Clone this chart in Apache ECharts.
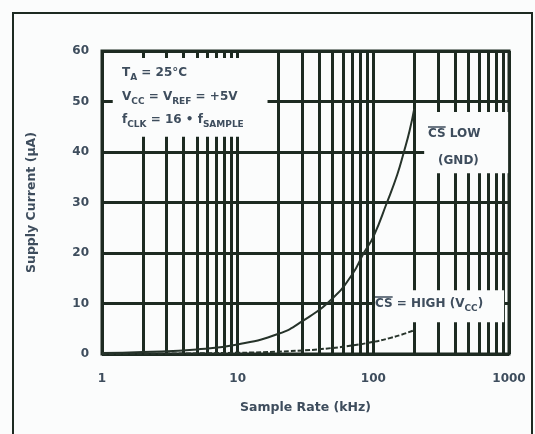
<!DOCTYPE html>
<html>
<head>
<meta charset="utf-8">
<script src="https://cdn.jsdelivr.net/npm/echarts@6/dist/echarts.min.js"></script>
<style>
  html, body { margin: 0; padding: 0; background: #fbfcfc; }
  #chart { width: 535px; height: 434px; }
</style>
</head>
<body>
<div id="chart"></div>
<script>
// Supply current vs. sample rate, two chip-select states
const sampleRateLow = [1, 2, 5, 10, 20, 30, 50, 70, 85, 100, 126, 150, 168, 185, 200];
const currentLow    = [0.2, 0.4, 0.9, 1.9, 4, 6.5, 11, 15.8, 20, 23.2, 30, 35.5, 40, 44.2, 48.5];

const sampleRateHigh = [1, 10, 30, 50, 70, 100, 130, 160, 200];
const currentHigh    = [0.02, 0.24, 0.7, 1.2, 1.7, 2.4, 3.1, 3.8, 4.7];

// Log-decade minor grid positions (2..9 per decade)
const minorGrid = [2, 3, 4, 5, 6, 7, 8, 9, 20, 30, 40, 50, 60, 70, 80, 90, 200, 300, 400, 500, 600, 700, 800, 900];
const xTickLabels = ['1', '10', '100', '1000'];

const ink = '#1d2a21';
const textInk = '#3e4d5d';
const font = '"DejaVu Sans", sans-serif';

const chart = echarts.init(document.getElementById('chart'), null, { renderer: 'canvas' });

chart.setOption({
  backgroundColor: '#fbfcfc',
  animation: false,
  grid: {
    left: 102, right: 26, top: 51, bottom: 80,
    show: true, borderColor: ink, borderWidth: 3, backgroundColor: 'transparent'
  },
  xAxis: {
    type: 'log', logBase: 10, min: 1, max: 1000,
    name: 'Sample Rate (kHz)', nameLocation: 'middle', nameGap: 47,
    nameTextStyle: { color: textInk, fontFamily: font, fontWeight: 'bold', fontSize: 12.5 },
    axisLine: { show: false }, axisTick: { show: false },
    axisLabel: {
      color: textInk, fontFamily: font, fontWeight: 'bold', fontSize: 12, margin: 19,
      formatter: v => xTickLabels[Math.round(Math.log10(v))] ?? ''
    },
    splitLine: { show: true, lineStyle: { color: ink, width: 3 } }
  },
  yAxis: {
    type: 'value', min: 0, max: 60, interval: 10,
    name: 'Supply Current (µA)', nameLocation: 'middle', nameGap: 64, nameRotate: 90,
    nameTextStyle: { color: textInk, fontFamily: font, fontWeight: 'bold', fontSize: 12.5 },
    axisLine: { show: false }, axisTick: { show: false },
    axisLabel: { color: textInk, fontFamily: font, fontWeight: 'bold', fontSize: 12, margin: 13 },
    splitLine: { show: true, lineStyle: { color: ink, width: 3 } }
  },
  series: [
    {
      name: 'minor grid', type: 'line', data: [], z: 1, silent: true,
      markLine: {
        silent: true, symbol: ['none', 'none'], label: { show: false },
        lineStyle: { color: ink, width: 3, type: 'solid' },
        data: minorGrid.map(v => ({ xAxis: v }))
      }
    },
    {
      name: 'CS LOW (GND)', type: 'line', smooth: true, showSymbol: false, z: 5,
      data: sampleRateLow.map((r, i) => [r, currentLow[i]]),
      lineStyle: { color: '#26332a', width: 2 }
    },
    {
      name: 'CS = HIGH (VCC)', type: 'line', smooth: true, showSymbol: false, z: 5,
      data: sampleRateHigh.map((r, i) => [r, currentHigh[i]]),
      lineStyle: { color: '#26332a', width: 2, type: [5, 2] }
    }
  ]
});

// White panels behind the in-plot notes, anchored in data space
function px(x, y) { return chart.convertToPixel({ gridIndex: 0 }, [x, y]); }
function panel(x0, y0, x1, y1) {
  const a = px(x0, y0), b = px(x1, y1);
  return {
    type: 'rect', z: 100, silent: true,
    shape: { x: a[0], y: a[1], width: b[0] - a[0], height: b[1] - a[1] },
    style: { fill: '#fbfcfc' }
  };
}

const mainSize = 12, subSize = 9;
const rich = {
  t: { fontFamily: font, fontWeight: 'bold', fontSize: mainSize, fill: textInk, verticalAlign: 'middle', lineHeight: 18 },
  s: { fontFamily: font, fontWeight: 'bold', fontSize: subSize, fill: textInk, verticalAlign: 'bottom', lineHeight: 18 }
};
function note(x, y, text) {
  return {
    type: 'text', z: 101, silent: true, x: x, y: y,
    style: { text: text, rich: rich, textAlign: 'left', textVerticalAlign: 'middle' }
  };
}

// Overbar for the active-low chip-select name
const measureCtx = document.createElement('canvas').getContext('2d');
measureCtx.font = 'bold ' + mainSize + 'px ' + font;
function overbar(x, y, label) {
  const w = measureCtx.measureText(label).width;
  return {
    type: 'line', z: 101, silent: true,
    shape: { x1: x, y1: y - 7, x2: x + w, y2: y - 7 },
    style: { stroke: textInk, lineWidth: 1.5 }
  };
}

chart.setOption({
  graphic: [
    { type: 'rect', z: 90, silent: true, shape: { x: 13, y: 13, width: 519, height: 440 },
      style: { fill: 'none', stroke: ink, lineWidth: 2 } },
    panel(1.2, 58.6, 16.6, 43.0),
    panel(237, 47.9, 985, 35.8),
    panel(103, 12.6, 920, 6.3),
    note(122, 73, '{t|T}{s|A}{t| = 25°C}'),
    note(122, 97, '{t|V}{s|CC}{t| = V}{s|REF}{t| = +5V}'),
    note(122, 120, '{t|f}{s|CLK}{t| = 16 • f}{s|SAMPLE}'),
    note(428, 134, '{t|CS LOW}'),
    overbar(428, 134, 'CS'),
    note(438, 161, '{t|(GND)}'),
    note(375, 304, '{t|CS = HIGH (V}{s|CC}{t|)}'),
    overbar(375, 304, 'CS')
  ]
});
</script>
</body>
</html>
